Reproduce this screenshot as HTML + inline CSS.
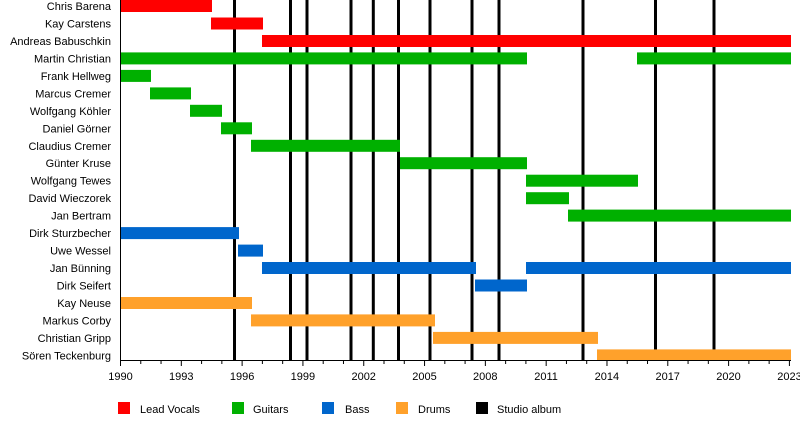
<!DOCTYPE html>
<html><head><meta charset="utf-8"><style>
body{margin:0;background:#fff}
svg text{font-family:"Liberation Sans",sans-serif;font-size:11px;fill:#000}
</style></head><body>
<svg width="800" height="420" xmlns="http://www.w3.org/2000/svg">
<g stroke="#000" stroke-width="3">
<line x1="234.5" y1="0" x2="234.5" y2="360"/>
<line x1="290.5" y1="0" x2="290.5" y2="360"/>
<line x1="307" y1="0" x2="307" y2="360"/>
<line x1="351" y1="0" x2="351" y2="360"/>
<line x1="373.3" y1="0" x2="373.3" y2="360"/>
<line x1="398.5" y1="0" x2="398.5" y2="360"/>
<line x1="430" y1="0" x2="430" y2="360"/>
<line x1="472" y1="0" x2="472" y2="360"/>
<line x1="499" y1="0" x2="499" y2="360"/>
<line x1="583" y1="0" x2="583" y2="360"/>
<line x1="655.5" y1="0" x2="655.5" y2="360"/>
<line x1="714" y1="0" x2="714" y2="360"/>
</g>
<g>
<rect x="120" y="0" width="92" height="12" fill="#ff0000"/>
<rect x="211" y="17.5" width="52" height="12" fill="#ff0000"/>
<rect x="262" y="35" width="529" height="12" fill="#ff0000"/>
<rect x="120" y="52.4" width="407" height="12" fill="#00b000"/>
<rect x="637" y="52.4" width="154" height="12" fill="#00b000"/>
<rect x="120" y="69.9" width="31" height="12" fill="#00b000"/>
<rect x="150" y="87.4" width="41" height="12" fill="#00b000"/>
<rect x="190" y="104.8" width="32" height="12" fill="#00b000"/>
<rect x="221" y="122.3" width="31" height="12" fill="#00b000"/>
<rect x="251" y="139.8" width="149" height="12" fill="#00b000"/>
<rect x="400" y="157.2" width="127" height="12" fill="#00b000"/>
<rect x="526" y="174.7" width="112" height="12" fill="#00b000"/>
<rect x="526" y="192.2" width="43" height="12" fill="#00b000"/>
<rect x="568" y="209.6" width="223" height="12" fill="#00b000"/>
<rect x="120" y="227.1" width="119" height="12" fill="#0066cc"/>
<rect x="238" y="244.6" width="25" height="12" fill="#0066cc"/>
<rect x="262" y="262" width="214" height="12" fill="#0066cc"/>
<rect x="526" y="262" width="265" height="12" fill="#0066cc"/>
<rect x="475" y="279.5" width="52" height="12" fill="#0066cc"/>
<rect x="120" y="297" width="132" height="12" fill="#ffa12b"/>
<rect x="251" y="314.4" width="184" height="12" fill="#ffa12b"/>
<rect x="433" y="331.9" width="165" height="12" fill="#ffa12b"/>
<rect x="597" y="349.4" width="194" height="11" fill="#ffa12b"/>
</g>
<g text-anchor="end">
<text x="111" y="10">Chris Barena</text>
<text x="111" y="27.5">Kay Carstens</text>
<text x="111" y="45">Andreas Babuschkin</text>
<text x="111" y="62.4">Martin Christian</text>
<text x="111" y="79.9">Frank Hellweg</text>
<text x="111" y="97.4">Marcus Cremer</text>
<text x="111" y="114.8">Wolfgang Köhler</text>
<text x="111" y="132.3">Daniel Görner</text>
<text x="111" y="149.8">Claudius Cremer</text>
<text x="111" y="167.2">Günter Kruse</text>
<text x="111" y="184.7">Wolfgang Tewes</text>
<text x="111" y="202.2">David Wieczorek</text>
<text x="111" y="219.6">Jan Bertram</text>
<text x="111" y="237.1">Dirk Sturzbecher</text>
<text x="111" y="254.6">Uwe Wessel</text>
<text x="111" y="272">Jan Bünning</text>
<text x="111" y="289.5">Dirk Seifert</text>
<text x="111" y="307">Kay Neuse</text>
<text x="111" y="324.4">Markus Corby</text>
<text x="111" y="341.9">Christian Gripp</text>
<text x="111" y="359.4">Sören Teckenburg</text>
</g>
<line x1="120.5" y1="0" x2="120.5" y2="360.5" stroke="#000" stroke-width="1"/>
<line x1="120" y1="360.5" x2="791" y2="360.5" stroke="#000" stroke-width="1"/>
<g stroke="#000" stroke-width="1" id="ticks"></g>
<g text-anchor="middle">
<text x="120.5" y="380">1990</text><text x="181.3" y="380">1993</text><text x="242.1" y="380">1996</text>
<text x="302.9" y="380">1999</text><text x="363.7" y="380">2002</text><text x="424.5" y="380">2005</text>
<text x="485.3" y="380">2008</text><text x="546.1" y="380">2011</text><text x="606.9" y="380">2014</text>
<text x="667.7" y="380">2017</text><text x="728.5" y="380">2020</text><text x="789.5" y="380">2023</text>
</g>
<rect x="118" y="402" width="12" height="12" fill="#ff0000"/><text x="140" y="413">Lead Vocals</text>
<rect x="232" y="402" width="12" height="12" fill="#00b000"/><text x="253" y="413">Guitars</text>
<rect x="322" y="402" width="12" height="12" fill="#0066cc"/><text x="345" y="413">Bass</text>
<rect x="396" y="402" width="12" height="12" fill="#ffa12b"/><text x="418" y="413">Drums</text>
<rect x="476" y="402" width="12" height="12" fill="#000"/><text x="497" y="413">Studio album</text>
</svg>
<script>
var g=document.getElementById('ticks');
for(var i=0;i<=33;i++){var x=120.5+i*20.27;var l=document.createElementNS('http://www.w3.org/2000/svg','line');
l.setAttribute('x1',x);l.setAttribute('x2',x);l.setAttribute('y1',360);l.setAttribute('y2',i%3==0?366:364);g.appendChild(l);}
</script>
</body></html>
